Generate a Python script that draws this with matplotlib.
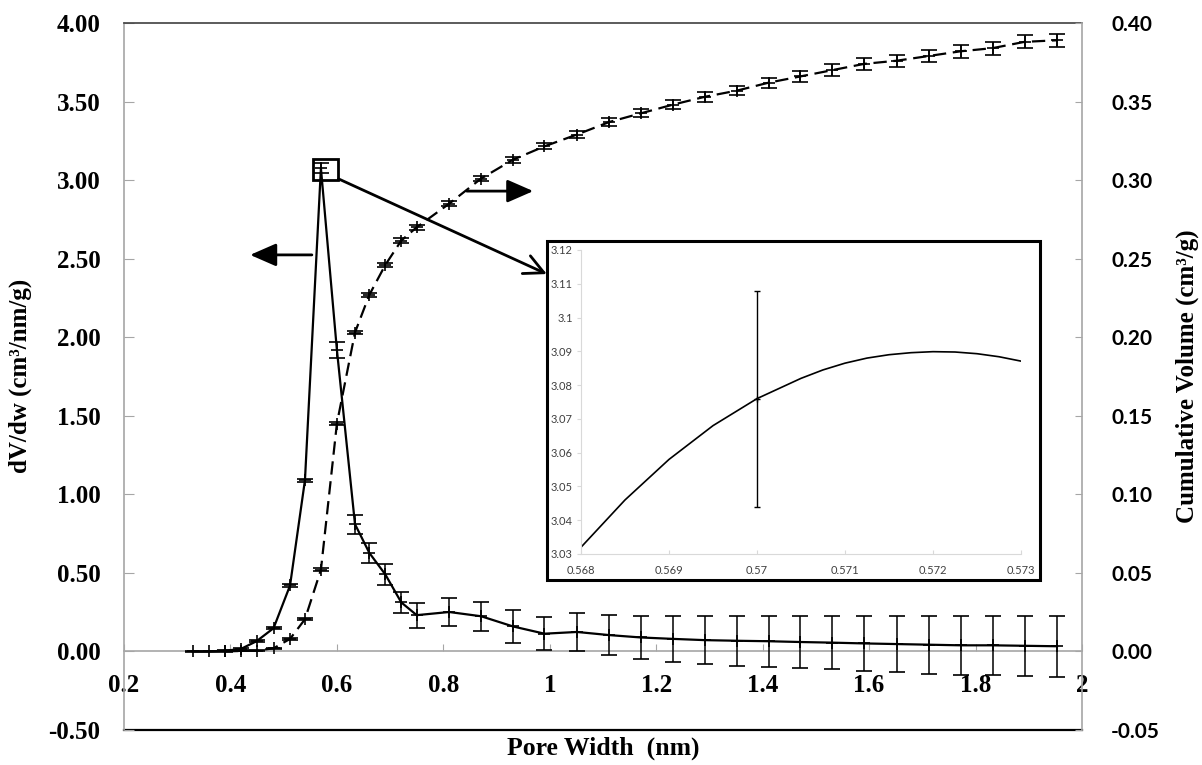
import numpy as np
import matplotlib
matplotlib.use("Agg")
from matplotlib import pyplot as plt
from matplotlib.patches import Rectangle


# Pore size distribution (left axis)
pore_width = [0.329, 0.360, 0.390, 0.419, 0.449, 0.481, 0.512, 0.540, 0.570,
              0.600, 0.634, 0.661, 0.691, 0.721, 0.750, 0.811, 0.871, 0.931,
              0.990, 1.051, 1.112, 1.171, 1.231, 1.291, 1.352, 1.411, 1.471,
              1.531, 1.591, 1.652, 1.712, 1.772, 1.832, 1.892, 1.953]
dvdw = [0.000, 0.000, 0.005, 0.015, 0.065, 0.148, 0.420, 1.090, 3.076,
        1.920, 0.810, 0.627, 0.490, 0.312, 0.231, 0.251, 0.224, 0.159,
        0.113, 0.124, 0.104, 0.089, 0.080, 0.072, 0.068, 0.065, 0.060,
        0.056, 0.051, 0.047, 0.043, 0.039, 0.039, 0.036, 0.033]
dvdw_err = [0.002, 0.002, 0.003, 0.004, 0.006, 0.008, 0.010, 0.010, 0.032,
            0.050, 0.060, 0.062, 0.068, 0.069, 0.080, 0.088, 0.093, 0.103,
            0.105, 0.119, 0.128, 0.137, 0.147, 0.154, 0.158, 0.161, 0.166,
            0.170, 0.175, 0.179, 0.184, 0.187, 0.187, 0.190, 0.193]

# Cumulative pore volume (right axis)
cum_width = pore_width[2:]
cum_volume = [0.0000, 0.0003, 0.0005, 0.0020, 0.0080, 0.0205, 0.0520,
              0.1450, 0.2030, 0.2270, 0.2460, 0.2615, 0.2700, 0.2850,
              0.3010, 0.3130, 0.3215, 0.3290, 0.3370, 0.3425, 0.3480,
              0.3530, 0.3570, 0.3620, 0.3660, 0.3700, 0.3740, 0.3760,
              0.3790, 0.3820, 0.3840, 0.3880, 0.3890]
cum_err = [0.0002, 0.0002, 0.0003, 0.0003, 0.0005, 0.0006, 0.0008,
           0.0010, 0.0012, 0.0012, 0.0013, 0.0014, 0.0015, 0.0016,
           0.0017, 0.0018, 0.0020, 0.0022, 0.0024, 0.0026, 0.0028,
           0.0030, 0.0031, 0.0033, 0.0034, 0.0036, 0.0037, 0.0038,
           0.0039, 0.0040, 0.0041, 0.0042, 0.0043]

# Zoom on the peak (inset)
zoom_width = [0.56800, 0.56825, 0.56850, 0.56875, 0.56900, 0.56925, 0.56950,
              0.56975, 0.57000, 0.57025, 0.57050, 0.57075, 0.57100, 0.57125,
              0.57150, 0.57175, 0.57200, 0.57225, 0.57250, 0.57275, 0.57300]
zoom_dvdw = [3.0320, 3.0390, 3.0460, 3.0520, 3.0580, 3.0630, 3.0680,
             3.0720, 3.0760, 3.0790, 3.0820, 3.0845, 3.0865, 3.0880,
             3.0890, 3.0896, 3.0899, 3.0898, 3.0893, 3.0884, 3.0871]
zoom_point = [0.570]
zoom_point_dvdw = [3.076]
zoom_point_err = [0.032]

x_ticks = [0.2, 0.4, 0.6, 0.8, 1.0, 1.2, 1.4, 1.6, 1.8, 2.0]
x_labels = ["0.2", "0.4", "0.6", "0.8", "1", "1.2", "1.4", "1.6", "1.8", "2"]
left_ticks = [-0.5, 0.0, 0.5, 1.0, 1.5, 2.0, 2.5, 3.0, 3.5, 4.0]
left_labels = ["-0.50", "0.00", "0.50", "1.00", "1.50", "2.00", "2.50",
               "3.00", "3.50", "4.00"]
right_ticks = [-0.05, 0.0, 0.05, 0.10, 0.15, 0.20, 0.25, 0.30, 0.35, 0.40]
right_labels = ["-0.05", "0.00", "0.05", "0.10", "0.15", "0.20", "0.25",
                "0.30", "0.35", "0.40"]
zoom_x_ticks = [0.568, 0.569, 0.570, 0.571, 0.572, 0.573]
zoom_x_labels = ["0.568", "0.569", "0.57", "0.571", "0.572", "0.573"]
zoom_y_ticks = [3.03, 3.04, 3.05, 3.06, 3.07, 3.08, 3.09, 3.10, 3.11, 3.12]
zoom_y_labels = ["3.03", "3.04", "3.05", "3.06", "3.07", "3.08", "3.09",
                 "3.1", "3.11", "3.12"]


SERIF = "Liberation Serif"
SANS = "Lato"
LIGHT = "#a6a6a6"

W, H = 1202, 765

fig = plt.figure(figsize=(W / 100, H / 100), dpi=100)

# main axes: pixel box 124..1082 x 23..730
ax = fig.add_axes([124 / W, 1 - 730 / H, 958 / W, 707 / H])
ax2 = ax.twinx()

ax.set_xlim(0.2, 2.0)
ax.set_ylim(-0.5, 4.0)
ax2.set_ylim(-0.05, 0.40)

# solid curve
style = {"color": "black", "linewidth": 1.6, "marker": "+", "markersize": 9,
         "markeredgewidth": 1.2, "ecolor": "black", "elinewidth": 1.1,
         "capsize": 5.5, "capthick": 1.1}
ax.errorbar(pore_width, dvdw, yerr=dvdw_err, zorder=3, **style)

# dashed curve
line = ax2.errorbar(cum_width, cum_volume, yerr=cum_err, zorder=3, **style)
line[0].set_dashes((6, 3))

# spines
ax.spines["bottom"].set_position(("data", 0))
ax.spines["bottom"].set_color(LIGHT)
ax.spines["bottom"].set_linewidth(1.2)
ax.spines["left"].set_color(LIGHT)
ax.spines["left"].set_linewidth(1.2)
ax.spines["top"].set_color("#404040")
ax.spines["top"].set_linewidth(1.2)
ax.spines["right"].set_visible(False)
for side in ["left", "top", "bottom"]:
    ax2.spines[side].set_visible(False)
ax2.spines["right"].set_color(LIGHT)
ax2.spines["right"].set_linewidth(1.2)

ax.axhline(-0.5, color="black", linewidth=1.6, clip_on=False, zorder=1)

ax.set_xticks(x_ticks)
ax.set_xticklabels(x_labels, fontfamily=SERIF, fontweight="bold", fontsize=18)
ax.set_yticks(left_ticks)
ax.set_yticklabels(left_labels, fontfamily=SERIF, fontweight="bold",
                   fontsize=18)
ax2.set_yticks(right_ticks)
ax2.set_yticklabels(right_labels, fontfamily=SANS, fontweight="bold",
                    fontsize=15)

ax.tick_params(axis="x", direction="in", length=5, color=LIGHT, pad=16)
ax.tick_params(axis="y", direction="in", length=7, color=LIGHT, pad=17)
ax2.tick_params(axis="y", direction="in", length=5, color=LIGHT, pad=21)

# axis titles
fig.text(603 / W, 1 - 748 / H, "Pore Width  (nm)", ha="center", va="center",
         fontfamily=SERIF, fontweight="bold", fontsize=18.5)
fig.text(20 / W, 1 - 376 / H, "dV/dw (cm³/nm/g)", ha="center", va="center",
         rotation=90, fontfamily=SERIF, fontweight="bold", fontsize=18)
fig.text(1187 / W, 1 - 376 / H, "Cumulative Volume (cm³/g)", ha="center",
         va="center", rotation=90, fontfamily=SERIF, fontweight="bold",
         fontsize=18)

# annotations
ax.add_patch(Rectangle((0.555, 3.003), 0.048, 0.132, fill=False,
                       edgecolor="black", linewidth=2, zorder=4))

ax.annotate("", xy=(0.9945, 2.402), xytext=(0.603, 3.008),
            arrowprops={"arrowstyle": "->,head_length=0.7,head_width=0.35",
                        "mutation_scale": 20, "linewidth": 2,
                        "color": "black", "shrinkA": 0, "shrinkB": 0})
ax.annotate("", xy=(0.437, 2.524), xytext=(0.553, 2.524),
            arrowprops={"arrowstyle": "-|>,head_length=0.8,head_width=0.35",
                        "mutation_scale": 20, "linewidth": 2,
                        "color": "black", "shrinkA": 0, "shrinkB": 0})
ax.annotate("", xy=(0.969, 2.93), xytext=(0.844, 2.93),
            arrowprops={"arrowstyle": "-|>,head_length=0.8,head_width=0.35",
                        "mutation_scale": 20, "linewidth": 2,
                        "color": "black", "shrinkA": 0, "shrinkB": 0})

# inset frame
frame = Rectangle((547 / W, 1 - 580 / H), 493 / W, 339 / H,
                  transform=fig.transFigure, facecolor="white",
                  edgecolor="black", linewidth=2.2, zorder=5)
fig.add_artist(frame)

inset = fig.add_axes([581 / W, 1 - 554 / H, 440 / W, 304 / H], zorder=6)
inset.patch.set_alpha(0)
inset.plot(zoom_width, zoom_dvdw, color="black", linewidth=1.2)
inset.errorbar(zoom_point, zoom_point_dvdw, yerr=zoom_point_err,
               color="black", marker="+", markersize=5, elinewidth=1,
               capsize=2, capthick=1)
inset.set_xlim(0.568, 0.573)
inset.set_ylim(3.03, 3.12)
inset.set_xticks(zoom_x_ticks)
inset.set_xticklabels(zoom_x_labels)
inset.set_yticks(zoom_y_ticks)
inset.set_yticklabels(zoom_y_labels)
for side in ["top", "right"]:
    inset.spines[side].set_visible(False)
for side in ["left", "bottom"]:
    inset.spines[side].set_color("#d9d9d9")
inset.tick_params(axis="x", direction="in", length=3, color="#d9d9d9",
                  pad=8, labelsize=8, labelcolor="#404040")
inset.tick_params(axis="y", direction="out", length=3, color="#d9d9d9",
                  pad=3, labelsize=8, labelcolor="#404040")
for label in inset.get_xticklabels() + inset.get_yticklabels():
    label.set_fontfamily(SANS)

fig.savefig("out.png", dpi=100)
